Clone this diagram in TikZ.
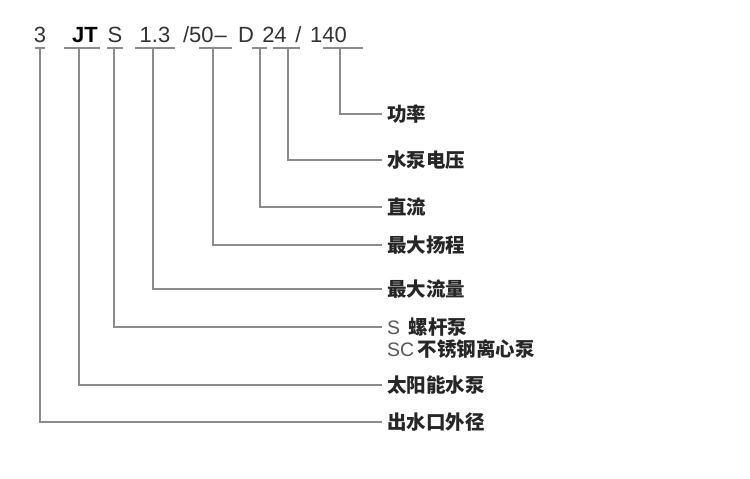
\documentclass[tikz,border=0pt]{standalone}
\usepackage{fontspec}
\setmainfont{Liberation Sans}
\newfontfamily\cjk{Noto Sans CJK SC}
\usetikzlibrary{positioning,calc}
\definecolor{ink}{HTML}{333333}
\definecolor{rule}{HTML}{8C8C8C}
\begin{document}
\begin{tikzpicture}[x=1pt,y=-1pt,
  code/.style={anchor=base,inner sep=0pt,text=ink,font=\fontsize{22}{26}\selectfont},
  codeb/.style={code,text=black,font=\fontsize{22}{26}\selectfont\bfseries},
  lbl/.style={anchor=west,inner sep=0pt,text=black!85,font=\cjk\fontsize{19.5}{23}\selectfont\bfseries},
  lbll/.style={lbl,text=black!65,font=\cjk\fontsize{19.5}{23}\selectfont},
  uline/.style={draw=rule,line width=1.3pt},
  lead/.style={draw=rule,line width=1.3pt}]
\useasboundingbox (0,0) rectangle (750,479);
% model code
\node[code] (c3) at (40,42) {3};
\node[codeb] (cJT) at (85,42) {JT};
\node[code] (cS) at (115,42) {S};
\node[code] (c13) at (155,42) {1.3};
\node[code] (c50) at (205,42) {/50\kern1pt–};
\node[code] (cD) at (246,42) {D};
\node[code] (c24) at (274.5,42) {24};
\node[code] (csl) at (298.5,42) {/};
\node[code] (c140) at (328.5,42) {140};
% underlines
\coordinate (u3) at (40,48);\coordinate (uJT) at (79,48);\coordinate (uS) at (114,48);\coordinate (u13) at (153,48);
\coordinate (u50) at (213,48);\coordinate (uD) at (260,48);\coordinate (u24) at (288,48);\coordinate (u140) at (340,48);
\draw[uline] (35,48)--(45,48);\draw[uline] (64,48)--(100,48);\draw[uline] (107,48)--(123,48);\draw[uline] (135,48)--(175,48);
\draw[uline] (199,48)--(232,48);\draw[uline] (252,48)--(267,48);\draw[uline] (273,48)--(300,48);\draw[uline] (323,48)--(363,48);
% labels
\node[lbl] (l140) at (387,114) {功率};
\node[lbl] (l24) at (387,160) {水泵电压};
\node[lbl] (lD) at (387,207) {直流};
\node[lbl] (l50) at (387,245) {最大扬程};
\node[lbl] (l13) at (387,289) {最大流量};
\node[lbll] (lS) at (387,327) {{\rmfamily\mdseries S}\ \ {\color{black!85}\bfseries 螺杆泵}};
\node[lbll,below=3pt of lS.south west,anchor=north west] (lSC) {{\rmfamily\mdseries SC}\,{\color{black!85}\bfseries 不锈钢离心泵}};
\node[lbl] (lJT) at (387,385) {太阳能水泵};
\node[lbl] (l3) at (387,422) {出水口外径};
% leaders
\draw[lead] (u140) |- ([xshift=-5pt]l140.west);\draw[lead] (u24) |- ([xshift=-5pt]l24.west);
\draw[lead] (uD) |- ([xshift=-5pt]lD.west);\draw[lead] (u50) |- ([xshift=-5pt]l50.west);
\draw[lead] (u13) |- ([xshift=-5pt]l13.west);\draw[lead] (uS) |- ([xshift=-5pt]lS.west);
\draw[lead] (uJT) |- ([xshift=-5pt]lJT.west);\draw[lead] (u3) |- ([xshift=-5pt]l3.west);
\end{tikzpicture}
\end{document}
